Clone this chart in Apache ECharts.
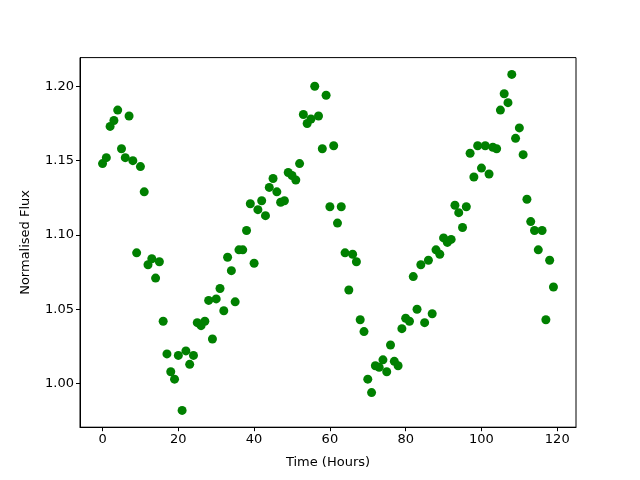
<!DOCTYPE html>
<html>
<head>
<meta charset="utf-8">
<script src="https://cdn.jsdelivr.net/npm/echarts@6/dist/echarts.min.js"></script>
<style>html,body{margin:0;padding:0;background:#fff}#c{width:640px;height:480px}</style>
</head>
<body>
<div id="c"></div>
<script>
const hours = [];
for (let i = 0; i < 120; i++) hours.push(i);
const flux = [
1.148,1.152,1.173,1.177,1.184,1.158,1.152,1.180,1.150,1.088,
1.146,1.129,1.080,1.084,1.071,1.082,1.042,1.020,1.008,1.003,
1.019,0.982,1.022,1.013,1.019,1.041,1.039,1.042,1.056,1.030,
1.057,1.064,1.049,1.085,1.076,1.055,1.090,1.090,1.103,1.121,
1.081,1.117,1.123,1.113,1.132,1.138,1.129,1.122,1.123,1.142,
1.140,1.137,1.148,1.181,1.175,1.178,1.200,1.180,1.158,1.194,
1.119,1.160,1.108,1.119,1.088,1.063,1.087,1.082,1.043,1.035,
1.003,0.994,1.012,1.011,1.016,1.008,1.026,1.015,1.012,1.037,
1.044,1.042,1.072,1.050,1.080,1.041,1.083,1.047,1.090,1.087,
1.098,1.095,1.097,1.120,1.115,1.105,1.119,1.155,1.139,1.160,
1.145,1.160,1.141,1.159,1.158,1.184,1.195,1.189,1.208,1.165,
1.172,1.154,1.124,1.109,1.103,1.090,1.103,1.043,1.083,1.065
];
const xTicks = [0, 20, 40, 60, 80, 100, 120];
const yTicks = [1.00, 1.05, 1.10, 1.15, 1.20];

const data = hours.map((h, i) => [h, flux[i]]);
const font = 'DejaVu Sans';
const chart = echarts.init(document.getElementById('c'), null, {renderer: 'canvas'});
chart.setOption({
  animation: false,
  backgroundColor: '#ffffff',
  grid: {left: 80, right: 64, top: 57.6, bottom: 52.8, show: true, borderColor: '#000', borderWidth: 1, backgroundColor: 'transparent'},
  xAxis: {
    type: 'value', min: -5.95, max: 124.95,
    name: 'Time (Hours)', nameLocation: 'middle', nameGap: 29,
    nameTextStyle: {fontFamily: font, fontSize: 13, color: '#000'},
    axisLine: {show: true, onZero: false, lineStyle: {color: '#000', width: 1}},
    axisTick: {show: true, inside: false, length: 4, customValues: xTicks, lineStyle: {color: '#000'}},
    axisLabel: {customValues: xTicks, fontFamily: font, fontSize: 13, color: '#000', margin: 6},
    splitLine: {show: false}
  },
  yAxis: {
    type: 'value', min: 0.9707, max: 1.2193,
    name: 'Normalised Flux', nameLocation: 'middle', nameGap: 48,
    nameTextStyle: {fontFamily: font, fontSize: 13, color: '#000'},
    axisLine: {show: true, onZero: false, lineStyle: {color: '#000', width: 1}},
    axisTick: {show: true, inside: false, length: 4, customValues: yTicks, lineStyle: {color: '#000'}},
    axisLabel: {customValues: yTicks, fontFamily: font, fontSize: 13, color: '#000', margin: 6,
      formatter: v => v.toFixed(2)},
    splitLine: {show: false}
  },
  series: [{
    type: 'scatter', data: data, symbol: 'circle', symbolSize: 9,
    itemStyle: {color: '#008000', opacity: 1}
  }]
});
</script>
</body>
</html>
